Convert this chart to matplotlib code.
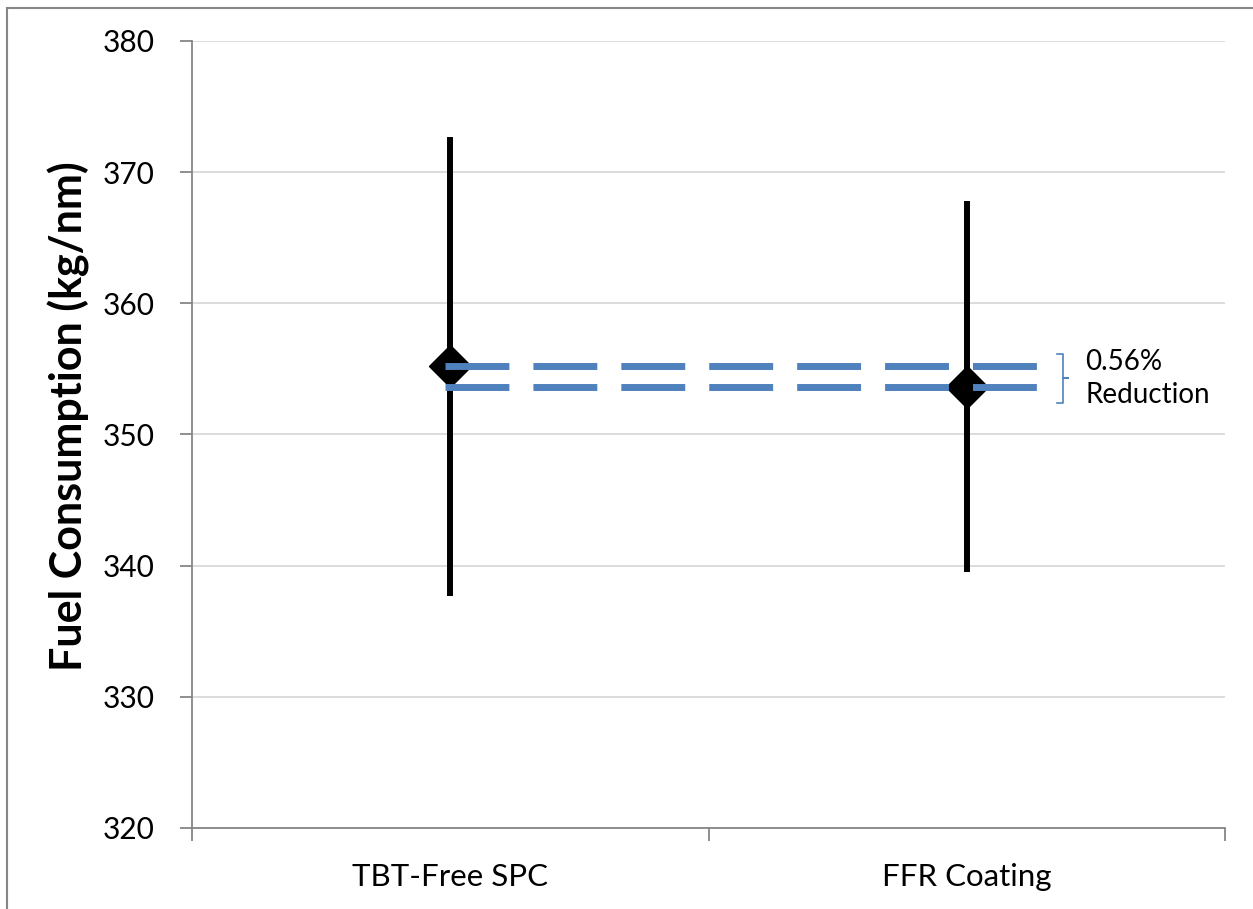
import matplotlib
matplotlib.use('Agg')
import matplotlib.pyplot as plt
from matplotlib.patches import Rectangle

plt.rcParams['font.family'] = ['Lato', 'DejaVu Sans']

# data
coatings = ['TBT-Free SPC', 'FFR Coating']
fuel_mean = [355.2, 353.6]
err_upper = [372.7, 367.8]
err_lower = [337.7, 339.5]
yticks = [320, 330, 340, 350, 360, 370, 380]
ref_span = [0.99, 2.138]  # x extent of the dashed reference lines
reduction_label = '0.56%\nReduction'

fig = plt.figure(figsize=(12.53, 9.09), dpi=100)
ax = fig.add_axes([192 / 1253, 1 - 828 / 909, (1225 - 192) / 1253, (828 - 41) / 909])

# outer chart border (only top/left visible in the reference)
fig.patches.append(Rectangle((7 / 1253, -0.05), 1.2, 1 - 8 / 909 + 0.05,
                             transform=fig.transFigure, fill=False,
                             edgecolor='#868686', lw=1.5))

x = [1, 2]
grey = '#868686'

ax.set_ylim(320, 380)
ax.set_xlim(0.5, 2.5)
ax.set_yticks(yticks)
ax.set_yticklabels([str(t) for t in yticks])
ax.set_xticks(x)
ax.set_xticklabels(coatings)
ax.set_xticks([0.5, 1.5, 2.5], minor=True)
ax.tick_params(axis='x', which='major', length=0, pad=25, labelsize=22.5)
ax.tick_params(axis='x', which='minor', length=9, color=grey, width=1.3)
ax.tick_params(axis='y', length=9, color=grey, width=1.3, pad=18, labelsize=21.5)

ax.grid(axis='y', color='#d9d9d9', lw=1.3)
ax.set_axisbelow(True)
for s in ['top', 'right']:
    ax.spines[s].set_visible(False)
for s in ['left', 'bottom']:
    ax.spines[s].set_color(grey)
    ax.spines[s].set_linewidth(1.3)

ax.set_ylabel('Fuel Consumption (kg/nm)', fontsize=31, fontweight='bold', labelpad=9)
ax.yaxis.label.set_y(0.523)

# error bars
ax.vlines(x, err_lower, err_upper, color='black', lw=4.3, zorder=3)
ax.plot(x, fuel_mean, 'D', color='black', ms=21, zorder=4, linestyle='none')

# dashed reference lines at each mean
lw = 5
for v in fuel_mean:
    ax.plot(ref_span, [v, v], color='#4f81bd', lw=lw,
            linestyle=(0, (46 / lw, 17.3 / lw)), dash_capstyle='butt', zorder=5)

# bracket
bx0, bx1, btip = 2.174, 2.186, 2.196
ytop, ybot = fuel_mean[0] + 0.95, fuel_mean[1] - 1.2
ymid = (ytop + ybot) / 2
ax.plot([bx0, bx1, bx1, btip, bx1, bx1, bx0],
        [ytop, ytop, ymid, ymid, ymid, ybot, ybot],
        color='#4f81bd', lw=1.2, clip_on=False, zorder=5)
ax.text(2.229, ymid, reduction_label, fontsize=20, va='center', ha='left',
        linespacing=1.3)

fig.savefig('out.png', dpi=100)
